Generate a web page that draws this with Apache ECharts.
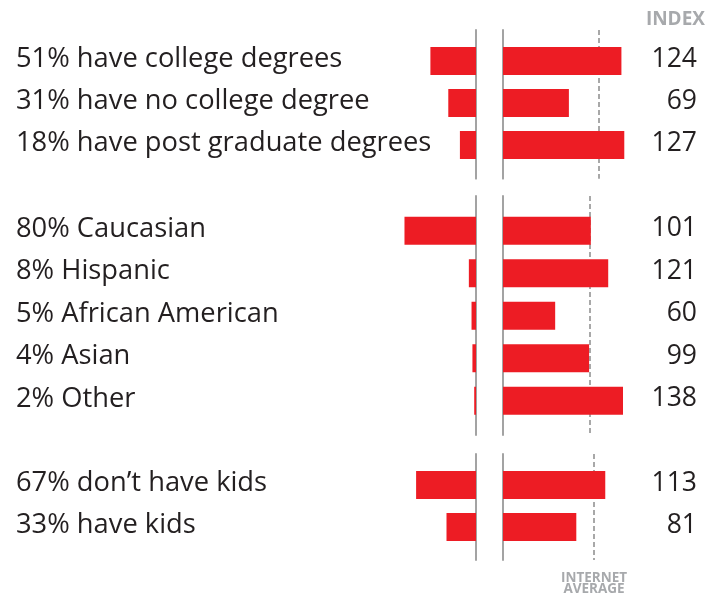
<!DOCTYPE html>
<html>
<head>
<meta charset="utf-8">
<style>
html,body{margin:0;padding:0;background:#fff;}
#chart{width:720px;height:594px;}
</style>
<script src="https://cdn.jsdelivr.net/npm/echarts@6/dist/echarts.min.js"></script>
</head>
<body>
<div id="chart"></div>
<script>
// ---- data ----
const desc1 = ['have college degrees', 'have no college degree', 'have post graduate degrees'];
const pct1 = [51, 31, 18];
const idx1 = [124, 69, 127];

const desc2 = ['Caucasian', 'Hispanic', 'African American', 'Asian', 'Other'];
const pct2 = [80, 8, 5, 4, 2];
const idx2 = [101, 121, 60, 99, 138];

const desc3 = ['don\u2019t have kids', 'have kids'];
const pct3 = [67, 33];
const idx3 = [113, 81];

const indexTitle = 'INDEX';
const avgLabel = 'INTERNET\nAVERAGE';
const averageIndex = 100;

// ---- layout ----
const FONT = '"Open Sans", "Noto Sans", sans-serif';
const RED = '#ed1c24';
const TXT = '#231f20';
const GRAY = '#a7a9ac';
const LINE = '#999999';

const groups = [
  {desc: desc1, pct: pct1, idx: idx1, barTop: 40, barH: 126, frameTop: 30, frameBottom: 178.7, idxMax: 146.6},
  {desc: desc2, pct: pct2, idx: idx2, barTop: 209.5, barH: 212.5, frameTop: 196, frameBottom: 435, idxMax: 161},
  {desc: desc3, pct: pct3, idx: idx3, barTop: 464, barH: 84, frameTop: 454, frameBottom: 560, idxMax: 154.7}
];

const L_LEFT = 386.6, L_W = 89.4, PCT_MAX = 100;
const R_LEFT = 503, R_W = 140;
const LABEL_X = 16, NUM_RIGHT = 697;

const grid = [], xAxis = [], yAxis = [], series = [];
groups.forEach((g, gi) => {
  const cats = g.desc.map((d, i) => g.pct[i] + '% ' + d);
  // left bar grid
  let gid = grid.length;
  grid.push({left: L_LEFT, width: L_W, top: g.barTop, height: g.barH});
  xAxis.push({gridIndex: gid, type: 'value', min: 0, max: PCT_MAX, inverse: true, show: false});
  yAxis.push({gridIndex: gid, type: 'category', data: cats, inverse: true, position: 'left',
    axisLine: {show: false, onZero: false}, axisTick: {show: false}, splitLine: {show: false},
    axisLabel: {align: 'left', verticalAlign: 'bottom', lineHeight: 4, margin: L_LEFT - LABEL_X,
      color: TXT, fontFamily: FONT, fontSize: 27.3}});
  series.push({type: 'bar', xAxisIndex: gid, yAxisIndex: gid, data: g.pct, barWidth: 28,
    itemStyle: {color: RED}, silent: true, animation: false, z: 3});
  // right bar grid
  gid = grid.length;
  grid.push({left: R_LEFT, width: R_W, top: g.barTop, height: g.barH});
  xAxis.push({gridIndex: gid, type: 'value', min: 0, max: g.idxMax, show: false});
  yAxis.push({gridIndex: gid, type: 'category', data: cats, inverse: true, position: 'right',
    axisLine: {show: false, onZero: false}, axisTick: {show: false}, splitLine: {show: false},
    axisLabel: {align: 'right', verticalAlign: 'bottom', lineHeight: 4, margin: NUM_RIGHT - (R_LEFT + R_W),
      color: TXT, fontFamily: FONT, fontSize: 26.5, formatter: (v, i) => String(g.idx[i])}});
  series.push({type: 'bar', xAxisIndex: gid, yAxisIndex: gid, data: g.idx, barWidth: 28,
    itemStyle: {color: RED}, silent: true, animation: false, z: 3});
  // left frame grid (solid line at 0 %)
  gid = grid.length;
  grid.push({left: L_LEFT, width: L_W, top: g.frameTop, height: g.frameBottom - g.frameTop});
  xAxis.push({gridIndex: gid, type: 'value', min: 0, max: PCT_MAX, inverse: true, show: false});
  yAxis.push({gridIndex: gid, type: 'value', min: 0, max: 1, position: 'right',
    axisLine: {show: true, onZero: false, lineStyle: {color: LINE, width: 1.8}},
    axisTick: {show: false}, axisLabel: {show: false}, splitLine: {show: false}});
  // right frame grid (solid line at 0, dashed at average index)
  gid = grid.length;
  grid.push({left: R_LEFT, width: R_W, top: g.frameTop, height: g.frameBottom - g.frameTop});
  xAxis.push({gridIndex: gid, type: 'value', min: 0, max: g.idxMax, interval: averageIndex,
    axisLine: {show: false}, axisTick: {show: false}, axisLabel: {show: false},
    splitLine: {show: true, showMinLine: false, showMaxLine: false,
      lineStyle: {color: '#8c8c8c', width: 1.5, type: [5, 3]}}});
  yAxis.push({gridIndex: gid, type: 'value', min: 0, max: 1, position: 'left',
    axisLine: {show: true, onZero: false, lineStyle: {color: LINE, width: 1.8}},
    axisTick: {show: false}, axisLabel: {show: false}, splitLine: {show: false}});
});

const chart = echarts.init(document.getElementById('chart'), null, {renderer: 'canvas'});
chart.setOption({
  animation: false,
  backgroundColor: '#fff',
  title: [
    {text: indexTitle, right: 10, top: 5,
      textStyle: {color: GRAY, fontFamily: FONT, fontWeight: 'bold', fontSize: 19}},
    {text: avgLabel, left: 589, textAlign: 'center', top: 568,
      textStyle: {color: GRAY, fontFamily: FONT, fontWeight: 'bold', fontSize: 13.5, lineHeight: 11}}
  ],
  grid, xAxis, yAxis, series
});
</script>
</body>
</html>
